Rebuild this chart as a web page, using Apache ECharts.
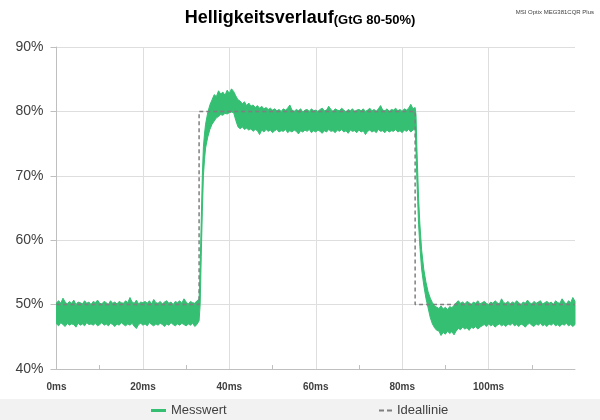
<!DOCTYPE html>
<html><head><meta charset="utf-8">
<script src="https://cdn.jsdelivr.net/npm/echarts@6/dist/echarts.min.js"></script>
<style>html,body{margin:0;padding:0;background:#fff}#c{width:600px;height:420px}</style>
</head><body><div id="c"></div>
<script>
// Messwert envelope (upper / lower edge of the noisy trace), % brightness
// flat part before the rise: t = 0 .. 32.5 ms, every 0.5 ms
const preUpper = [
  50.3,50.6,50.2,51.0,50.4,50.1,50.5,50.2,50.7,50.0,
  50.4,50.3,50.1,50.6,50.2,50.4,50.0,50.5,50.3,50.7,
  50.2,50.1,50.5,50.3,50.0,50.6,50.2,50.4,50.1,50.5,
  50.3,50.2,50.6,50.3,51.1,50.4,50.2,50.7,50.1,50.4,
  50.3,50.5,50.2,50.6,50.1,50.8,50.3,50.2,50.5,50.1,
  50.4,50.6,50.2,50.4,50.0,50.5,50.3,50.6,50.2,50.9,
  50.4,50.1,50.5,50.3,50.2,50.6];
const preLower = [
  47.0,46.7,47.2,46.9,46.6,47.1,46.8,47.0,46.9,46.5,
  47.1,46.8,47.0,46.7,47.2,46.9,47.0,46.8,47.1,46.7,
  46.9,47.2,46.8,47.0,46.7,47.1,46.9,46.6,47.0,46.8,
  47.2,46.9,46.7,47.0,46.8,47.1,46.6,46.3,46.9,47.1,
  46.8,47.0,46.7,47.2,46.9,46.7,47.0,46.8,47.1,46.9,
  46.6,47.0,46.8,47.2,46.9,46.7,47.0,46.8,47.1,46.9,
  46.7,47.0,46.8,47.1,46.6,46.9];
// rise
const riseTime  = [33.0,33.25,33.5,33.75,34.0,34.25,34.5,35.0,35.5,36.0,36.5,37.0,37.5,38.0,38.5,39.0,39.5,40.0,40.5,41.0,41.5,42.0];
const riseUpper = [50.8,56.0,63.0,70.0,74.5,76.5,78.0,79.8,81.0,81.8,82.6,82.3,83.2,82.7,83.0,82.5,83.3,82.8,83.5,83.1,82.4,81.8];
const riseLower = [47.5,50.0,57.5,64.5,70.0,72.5,74.3,76.0,77.2,78.0,78.5,79.0,79.2,79.5,79.4,79.7,79.6,79.8,79.9,79.8,78.6,77.6];
// plateau: t = 42.5 .. 82.5 ms, every 0.5 ms
const plateauUpper = [
  81.6,81.2,81.5,80.9,81.3,80.8,81.0,80.6,80.9,80.5,
  80.8,80.4,80.6,80.3,80.5,80.2,80.4,80.1,80.3,80.0,
  80.4,80.2,80.5,81.0,80.2,80.0,80.3,80.1,80.4,79.9,
  80.2,80.3,80.0,80.4,80.1,80.2,80.0,80.3,80.5,80.1,
  80.2,80.8,80.3,80.0,80.4,80.2,80.1,80.5,80.2,79.9,
  80.3,80.1,80.4,80.0,80.2,80.3,80.1,80.4,80.0,80.2,
  80.5,80.1,80.3,80.0,80.4,80.9,80.2,80.1,80.4,80.0,
  80.3,80.2,80.5,80.1,80.3,80.0,80.4,80.2,80.5,81.1,
  80.4];
const plateauLower = [
  77.3,77.6,77.2,77.4,77.1,77.3,76.9,77.2,77.0,76.4,
  77.1,76.8,77.2,76.9,77.1,76.7,77.0,77.2,76.8,77.0,
  76.9,77.2,76.7,77.0,76.8,77.1,76.9,76.5,77.0,76.8,
  77.1,76.9,77.2,76.7,77.0,76.8,77.1,76.9,76.6,77.0,
  76.8,77.2,76.9,77.0,76.7,77.1,76.9,77.2,76.8,77.0,
  76.6,77.1,76.9,77.0,76.7,77.1,76.8,77.0,76.4,76.9,
  77.1,76.8,77.0,76.7,77.2,76.9,77.0,76.7,77.1,76.8,
  77.0,76.9,77.2,76.8,77.0,76.7,77.1,76.9,77.2,76.8,
  77.1];
// fall
const fallTime  = [83.0,83.2,83.4,83.6,83.8,84.1,84.5,85.0,85.5,86.0,86.5,87.0,87.5,88.0];
const fallUpper = [80.6,79.5,74.5,70.5,66.5,62.5,58.5,55.5,53.5,52.0,51.0,50.3,49.8,49.6];
const fallLower = [77.3,74.0,69.5,66.0,62.5,59.0,55.5,53.0,51.0,49.5,48.0,47.0,46.4,46.0];
// after the fall: t = 88.5 .. 120 ms, every 0.5 ms
const postUpper = [
  49.4,49.8,49.3,49.6,49.2,49.7,49.5,49.9,50.3,50.6,
  50.2,50.4,50.1,50.5,50.3,50.0,50.4,50.2,50.6,50.1,
  50.3,50.5,50.2,50.0,50.4,50.2,50.6,50.3,50.1,50.9,
  50.3,50.2,50.5,50.1,50.4,50.2,50.6,50.3,50.0,50.4,
  50.2,50.7,50.3,50.1,50.5,50.2,50.4,50.6,50.1,50.3,
  50.5,50.2,50.4,50.0,50.6,50.3,50.2,50.9,50.4,50.1,
  50.6,50.3,51.1,50.5];
const postLower = [
  45.9,45.2,45.7,45.4,45.9,45.5,45.8,45.3,45.9,46.3,
  46.1,46.5,46.2,46.4,46.0,46.5,46.3,46.6,46.2,46.5,
  46.7,46.9,46.6,47.0,46.7,46.9,46.5,46.8,47.0,46.7,
  46.9,46.6,47.0,46.8,47.1,46.7,46.9,46.6,47.0,46.8,
  46.5,46.9,47.1,46.8,46.6,47.0,46.8,47.1,46.7,46.9,
  46.6,47.0,46.8,47.1,46.7,46.9,46.6,47.0,46.8,47.1,
  46.7,46.9,46.6,46.9];

// Ideallinie
const idealTime  = [0, 33, 33, 83, 83, 120];
const idealValue = [50, 50, 80, 80, 50, 50];

const GREEN = '#34bf73';
const GREY = '#7f7f7f';

function grid(start, n) { const a = []; for (let i = 0; i < n; i++) a.push(start + i * 0.5); return a; }
const time = [].concat(grid(0, preUpper.length), riseTime, grid(42.5, plateauUpper.length), fallTime, grid(88.5, postUpper.length));
const upper = [].concat(preUpper, riseUpper, plateauUpper, fallUpper, postUpper);
const lower = [].concat(preLower, riseLower, plateauLower, fallLower, postLower);
const bandData = time.map((t, i) => [t, upper[i], lower[i]]);
const idealData = idealTime.map((t, i) => [t, idealValue[i]]);

const chart = echarts.init(document.getElementById('c'), null, { renderer: 'canvas' });
chart.setOption({
  animation: false,
  backgroundColor: '#ffffff',
  title: {
    text: '{a|Helligkeitsverlauf}{b|(GtG 80-50%)}',
    left: 'center', top: 4,
    textStyle: {
      rich: {
        a: { fontFamily: 'Liberation Sans', fontWeight: 'bold', fontSize: 18, color: '#000', verticalAlign: 'bottom' },
        b: { fontFamily: 'Liberation Sans', fontWeight: 'bold', fontSize: 13, color: '#000', verticalAlign: 'bottom' }
      }
    }
  },
  graphic: [
    { type: 'rect', left: 0, top: 399, z: -10, shape: { width: 600, height: 21 }, style: { fill: '#f2f2f2' } },
    { type: 'text', right: 6, top: 9, style: { text: 'MSI Optix MEG381CQR Plus', font: '6px "Liberation Sans"', fill: '#404040' } }
  ],
  legend: [
    { data: ['Messwert'], left: 151, top: 404, padding: 0, itemWidth: 15, itemHeight: 3, icon: 'rect',
      textStyle: { fontFamily: 'Liberation Sans', fontSize: 13, color: '#404040' }, selectedMode: false },
    { data: ['Ideallinie'], left: 379, top: 404, padding: 0, itemWidth: 13, itemHeight: 2,
      icon: 'path://M0,0h5v2h-5zM8,0h5v2h-5z',
      textStyle: { fontFamily: 'Liberation Sans', fontSize: 13, color: '#404040' }, selectedMode: false }
  ],
  grid: { left: 56.5, right: 25, top: 47, bottom: 51, containLabel: false },
  xAxis: {
    type: 'value', min: 0, max: 120, interval: 20,
    axisLine: { lineStyle: { color: '#bfbfbf' } },
    axisTick: { show: false, inside: true, length: 4, lineStyle: { color: '#bfbfbf' } },
    minorTick: { show: true, splitNumber: 2, length: 4, lineStyle: { color: '#bfbfbf' } },
    splitLine: { show: true, showMaxLine: false, lineStyle: { color: '#dedede' } },
    axisLabel: { formatter: '{value}ms', showMaxLabel: false, fontFamily: 'Liberation Sans', fontWeight: 'bold', fontSize: 10, color: '#404040', margin: 13 }
  },
  yAxis: {
    type: 'value', min: 40, max: 90, interval: 10,
    axisLine: { show: true, lineStyle: { color: '#bfbfbf' } },
    axisTick: { show: true, length: 6, lineStyle: { color: '#bfbfbf' } },
    splitLine: { show: true, lineStyle: { color: '#dedede' } },
    axisLabel: { formatter: '{value}%', fontFamily: 'Liberation Sans', fontSize: 14, color: '#404040', margin: 13 }
  },
  series: [
    { name: 'Messwert', type: 'custom', coordinateSystem: 'cartesian2d', clip: true,
      itemStyle: { color: GREEN },
      data: [bandData[0]], encode: { x: 0, y: [1, 2] },
      renderItem: function (params, api) {
        const pts = [];
        for (let i = 0; i < bandData.length; i++) pts.push(api.coord([bandData[i][0], bandData[i][1]]));
        for (let i = bandData.length - 1; i >= 0; i--) pts.push(api.coord([bandData[i][0], bandData[i][2]]));
        return { type: 'polygon', shape: { points: pts }, style: { fill: GREEN, stroke: GREEN, lineWidth: 1, lineJoin: 'bevel' } };
      }, z: 2 },
    { name: 'Ideallinie', type: 'line', data: idealData, showSymbol: false, symbol: 'none',
      lineStyle: { color: GREY, width: 1.5, type: [4, 3] }, itemStyle: { color: GREY }, z: 3 }
  ]
});
</script>
</body></html>
